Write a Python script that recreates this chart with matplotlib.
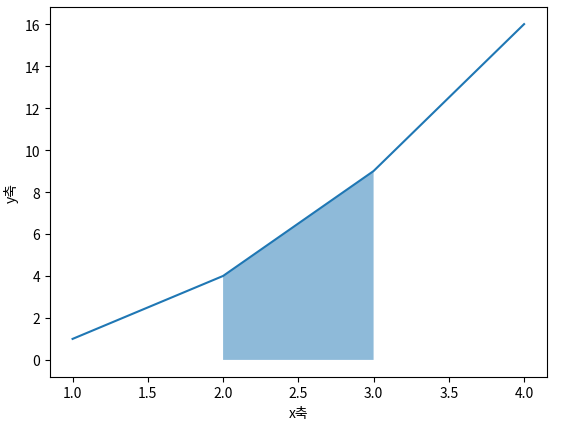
import matplotlib
matplotlib.use("Agg")
import matplotlib.pyplot as plt

plt.rcParams['font.family'] = ['Noto Sans CJK KR', 'DejaVu Sans']
plt.rcParams['axes.unicode_minus'] = False

# data
x = [1, 2, 3, 4]
y = [1, 4, 9, 16]
fill_x = x[1:3]
fill_y = y[1:3]

fig = plt.figure(figsize=(5.63, 4.27), dpi=100)
ax = fig.add_axes([0.0888, 0.1155, 0.8822, 0.865])

ax.plot(x, y)
ax.fill_between(fill_x, fill_y, alpha=0.5)
ax.set_xlabel("x축")
ax.set_ylabel("y축")

fig.savefig("out.png", dpi=100)
